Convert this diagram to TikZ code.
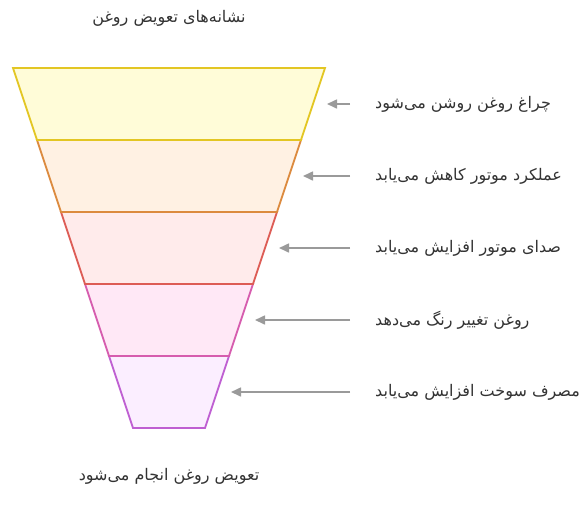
\documentclass[tikz,border=0pt]{standalone}
\usepackage{fontspec}
\usepackage{xcolor}
\usetikzlibrary{arrows.meta}
\newfontfamily\arabicfont[Script=Arabic]{DejaVu Sans}
\TeXXeTstate=1

\definecolor{inkgray}{HTML}{333333}
\definecolor{arrowgray}{HTML}{9A9A9A}
\definecolor{yellowline}{HTML}{E3C623}
\definecolor{yellowfill}{HTML}{FFFCD8}
\definecolor{orangeline}{HTML}{DC8A3E}
\definecolor{orangefill}{HTML}{FFF1E3}
\definecolor{redline}{HTML}{DD5C55}
\definecolor{redfill}{HTML}{FFEBEB}
\definecolor{pinkline}{HTML}{D65CAE}
\definecolor{pinkfill}{HTML}{FFE8F6}
\definecolor{purpleline}{HTML}{BF5FD2}
\definecolor{purplefill}{HTML}{FBEEFF}

\begin{document}
\begin{tikzpicture}[x=1pt, y=-1pt,
  band/.style={line width=1.8pt, line join=miter},
  farsi/.style={text=inkgray, inner sep=0pt, font=\arabicfont\fontsize{16}{18}\selectfont},
  pointer/.style={draw=arrowgray, line width=1.6pt, -{Triangle[length=10pt, width=9pt]}, shorten <=25pt}]
  \useasboundingbox (0, 0) rectangle (586, 509);

  % Title / result
  \node[farsi] (title) at (169, 18) {\beginR نشانه‌های تعویض روغن\endR};
  \node[farsi] (result) at (169, 476) {\beginR تعویض روغن انجام می‌شود\endR};

  % Band 5 (bottom)
  \draw[band, draw=purpleline, fill=purplefill]
     (109, 356) -- (229, 356) -- (205, 428) -- (133, 428) -- cycle;
  % Band 4
  \draw[band, draw=pinkline, fill=pinkfill]
     (85, 284) -- (253, 284) -- (229, 356) -- (109, 356) -- cycle;
  % Band 3
  \draw[band, draw=redline, fill=redfill]
     (61, 212) -- (277, 212) -- (253, 284) -- (85, 284) -- cycle;
  % Band 2
  \draw[band, draw=orangeline, fill=orangefill]
     (37, 140) -- (301, 140) -- (277, 212) -- (61, 212) -- cycle;
  % Band 1 (top)
  \draw[band, draw=yellowline, fill=yellowfill]
     (13, 68) -- (325, 68) -- (301, 140) -- (37, 140) -- cycle;

  % Tips at the funnel edge
  \coordinate (tip1) at (327, 104);
  \coordinate (tip2) at (303, 176);
  \coordinate (tip3) at (279, 248);
  \coordinate (tip4) at (255, 320);
  \coordinate (tip5) at (231, 392);

  % Signs
  \node[farsi, anchor=west] (sign1) at (375, 104) {\beginR چراغ روغن روشن می‌شود\endR};
  \node[farsi, anchor=west] (sign2) at (375, 176) {\beginR عملکرد موتور کاهش می‌یابد\endR};
  \node[farsi, anchor=west] (sign3) at (375, 248) {\beginR صدای موتور افزایش می‌یابد\endR};
  \node[farsi, anchor=west] (sign4) at (375, 320) {\beginR روغن تغییر رنگ می‌دهد\endR};
  \node[farsi, anchor=west] (sign5) at (375, 392) {\beginR مصرف سوخت افزایش می‌یابد\endR};

  \draw[pointer] (sign1.west) -- (tip1);
  \draw[pointer] (sign2.west) -- (tip2);
  \draw[pointer] (sign3.west) -- (tip3);
  \draw[pointer] (sign4.west) -- (tip4);
  \draw[pointer] (sign5.west) -- (tip5);
\end{tikzpicture}
\end{document}
